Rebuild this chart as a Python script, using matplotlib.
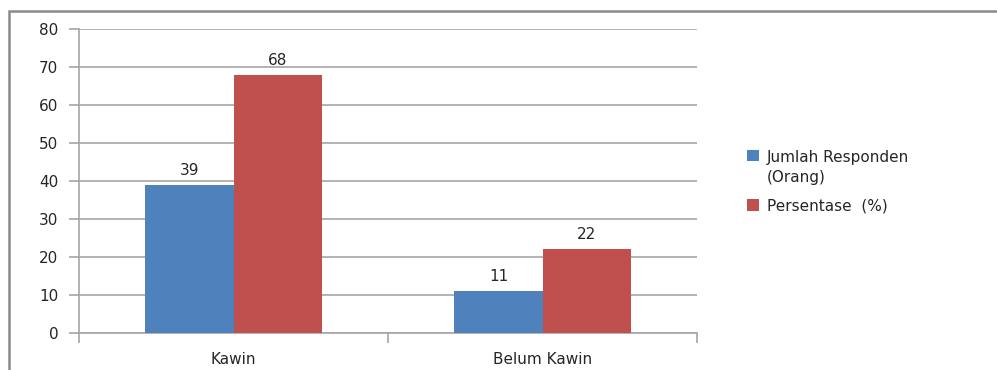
import matplotlib
matplotlib.use("Agg")
import matplotlib.pyplot as plt
from matplotlib.patches import Rectangle
import numpy as np

# Marital status of respondents
categories = ["Kawin", "Belum Kawin"]
series_names = ["Jumlah Responden\n(Orang)", "Persentase  (%)"]
jumlah = [39, 11]
persentase = [68, 22]
y_ticks = [0, 10, 20, 30, 40, 50, 60, 70, 80]

colors = ["#4F81BD", "#C0504D"]
grid_col = "#A6A6A6"
text_col = "#262626"

plt.rcParams["font.family"] = ["DejaVu Sans"]

fig = plt.figure(figsize=(9.97, 3.70), dpi=100)
fig.patch.set_facecolor("white")

# chart border (extends past the right and bottom edges)
fig.add_artist(Rectangle((8.5 / 997, -0.1), 1.2, (370 - 11) / 370 + 0.1,
                         transform=fig.transFigure, fill=False,
                         edgecolor="#8A8A8A", linewidth=1.8))

ax = fig.add_axes([79 / 997, 37 / 370, (697 - 79) / 997, (333 - 29) / 370])

x = np.arange(len(categories))
w = 0.285
bars = []
for i, (vals, name) in enumerate(zip([jumlah, persentase], series_names)):
    offs = (i - 0.5) * w
    b = ax.bar(x + offs, vals, width=w, color=colors[i], label=name, zorder=3)
    bars.append(b)
    for xi, v in zip(x + offs, vals):
        ax.annotate(f"{v}", (xi, v), xytext=(0, 5), textcoords="offset points",
                    ha="center", va="bottom", fontsize=11, color=text_col)

ax.set_xlim(-0.5, 1.5)
ax.set_ylim(0, 80)
ax.set_yticks(y_ticks)
ax.yaxis.grid(True, color=grid_col, linewidth=1.2, zorder=0)
ax.set_axisbelow(True)

ax.set_xticks([-0.5, 0.5, 1.5], minor=False)
ax.set_xticklabels([])
ax.set_xticks(x, minor=True)
ax.set_xticklabels(categories, minor=True)
ax.tick_params(axis="x", which="major", length=7, color=grid_col, width=1.2)
ax.tick_params(axis="x", which="minor", length=0, pad=14, labelsize=11,
               labelcolor=text_col)
ax.tick_params(axis="y", length=7, color=grid_col, width=1.2, pad=8,
               labelsize=11, labelcolor=text_col)

for s in ["top", "right"]:
    ax.spines[s].set_visible(False)
for s in ["left", "bottom"]:
    ax.spines[s].set_color(grid_col)
    ax.spines[s].set_linewidth(1.2)

leg = fig.legend(handles=bars, labels=series_names, loc="upper left",
                 bbox_to_anchor=(733 / 997, 1 - 136 / 370), frameon=False,
                 fontsize=11, handlelength=0.8, handleheight=0.8,
                 handletextpad=0.5, labelspacing=0.9, labelcolor=text_col)
for t in leg.get_texts():
    t.set_linespacing(1.45)
# keep the swatch beside the first line of a wrapped label
for col in leg._legend_handle_box.get_children():
    for row in col.get_children():
        row.align = "top"

fig.savefig("out.png", dpi=100, facecolor="white")
